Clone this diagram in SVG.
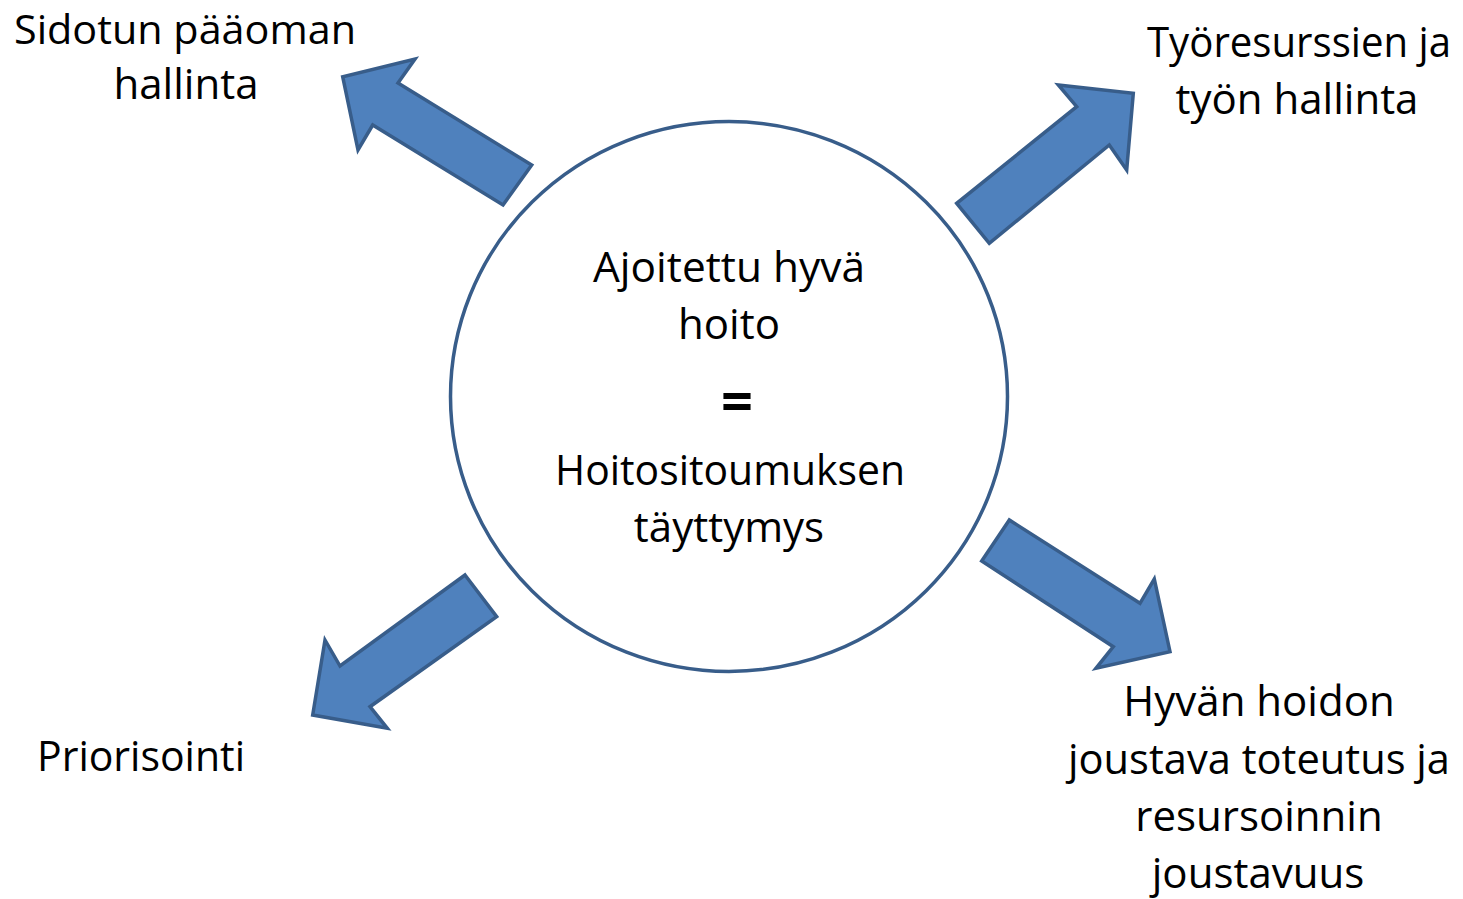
<svg xmlns="http://www.w3.org/2000/svg" width="1463" height="899" viewBox="0 0 1463 899">
<style>
.lbl{font-family:"Open Sans","Liberation Sans",sans-serif;font-size:42px;fill:#000;text-anchor:middle}
.eq{font-family:"Open Sans","Liberation Sans",sans-serif;font-size:56px;font-weight:bold;fill:#000;text-anchor:middle}
.arrow{fill:#4f81bd;stroke:#385d8a;stroke-width:3.5;stroke-linejoin:miter}
.circ{fill:#fff;stroke:#385d8a;stroke-width:3.5}
</style>
<rect width="1463" height="899" fill="#fff"/>
<g id="center">
<ellipse class="circ" cx="729" cy="396.5" rx="278.5" ry="275"/>
<text class="lbl" x="729" y="282" textLength="272" lengthAdjust="spacingAndGlyphs">Ajoitettu hyvä</text>
<text class="lbl" x="729" y="339">hoito</text>
<text class="eq" x="737" y="421">=</text>
<text class="lbl" x="730" y="485" textLength="350" lengthAdjust="spacingAndGlyphs">Hoitositoumuksen</text>
<text class="lbl" x="729" y="542">täyttymys</text>
</g>
<g id="connectors">
<polygon id="arrow-tl" class="arrow" points="503,205 531.7,165 398,83 415,59 342.7,76.7 358,150 372.7,125"/>
<polygon id="arrow-tr" class="arrow" points="956.7,203.3 989.3,243.3 1109.3,145 1126.7,170 1133.3,93.3 1058.3,85 1076.7,106.7"/>
<polygon id="arrow-bl" class="arrow" points="465,575 496.7,616.7 370,706.7 387.3,728.3 312.7,715 325,640 340,666"/>
<polygon id="arrow-br" class="arrow" points="1009.3,520 981.7,561 1113.3,646.7 1096,668.3 1170,651.7 1154.3,579 1140,603.3"/>
</g>
<g id="node-sidotun">
<text class="lbl" x="185" y="44" style="font-size:41px" textLength="342" lengthAdjust="spacingAndGlyphs">Sidotun pääoman</text>
<text class="lbl" x="186" y="99">hallinta</text>
</g>
<g id="node-tyoresurssit">
<text class="lbl" x="1299" y="57" textLength="304" lengthAdjust="spacingAndGlyphs">Työresurssien ja</text>
<text class="lbl" x="1297" y="114">työn hallinta</text>
</g>
<g id="node-priorisointi">
<text class="lbl" x="141" y="771" textLength="208" lengthAdjust="spacingAndGlyphs">Priorisointi</text>
</g>
<g id="node-hyvan-hoidon">
<text class="lbl" x="1259" y="716">Hyvän hoidon</text>
<text class="lbl" x="1259" y="774" textLength="382" lengthAdjust="spacingAndGlyphs">joustava toteutus ja</text>
<text class="lbl" x="1259" y="831">resursoinnin</text>
<text class="lbl" x="1258" y="888">joustavuus</text>
</g>
</svg>
